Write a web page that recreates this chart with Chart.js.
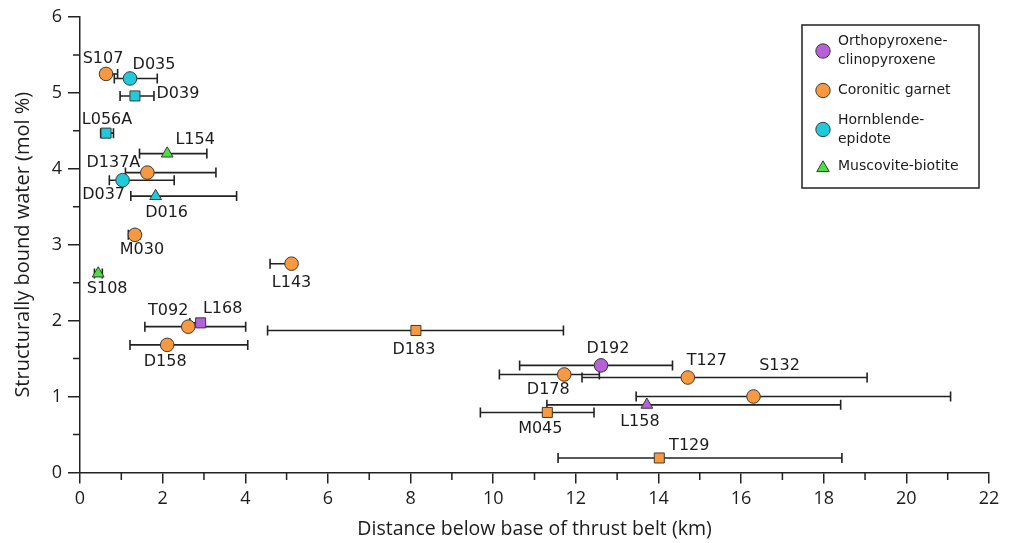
<!DOCTYPE html>
<html>
<head>
<meta charset="utf-8">
<script src="https://cdn.jsdelivr.net/npm/chart.js@4/dist/chart.umd.min.js"></script>
<style>
    html, body { margin: 0; padding: 0; background: #fff; }
    #wrap { width: 1012px; height: 543px; position: relative; }
</style>
</head>
<body>
<div id="wrap"><canvas id="chart"></canvas></div>
<script>
// --- data ---
const samples = ['S107', 'D035', 'D039', 'L056A', 'L154', 'D137A', 'D037', 'D016', 'M030', 'L143', 'S108',
    'T092', 'L168', 'D158', 'D183', 'D192', 'D178', 'T127', 'S132', 'L158', 'M045', 'T129'];
const distance     = [0.63, 1.21, 1.33, 0.63, 2.11, 1.63, 1.03, 1.83, 1.33, 5.12, 0.44, 2.62, 2.92, 2.11, 8.13, 12.61, 11.72, 14.71, 16.30, 13.72, 11.31, 14.02];
const distanceLow  = [0.52, 0.83, 0.97, 0.50, 1.44, 1.10, 0.71, 1.23, 1.17, 4.60, 0.35, 1.57, 2.66, 1.21, 4.54, 10.64, 10.15, 12.15, 13.46, 11.30, 9.69, 11.57];
const distanceHigh = [0.91, 1.87, 1.79, 0.81, 3.07, 3.29, 2.28, 3.79, 1.45, 5.20, 0.54, 4.01, 3.00, 4.06, 11.70, 14.34, 12.57, 19.05, 21.07, 18.41, 12.44, 18.44];
const water        = [5.25, 5.19, 4.96, 4.47, 4.20, 3.95, 3.85, 3.64, 3.13, 2.75, 2.62, 1.92, 1.97, 1.68, 1.87, 1.41, 1.29, 1.25, 1.00, 0.89, 0.79, 0.19];
// 0 opx-cpx, 1 coronitic garnet, 2 hornblende-epidote, 3 muscovite-biotite
const assemblage   = [1, 2, 2, 2, 3, 1, 2, 2, 1, 1, 3, 1, 0, 1, 1, 0, 1, 1, 1, 0, 1, 1];
const groups = [['Orthopyroxene-', 'clinopyroxene'], ['Coronitic garnet'], ['Hornblende-', 'epidote'], ['Muscovite-biotite']];
const xLabelTicks = [0, 2, 4, 6, 8, 10, 12, 14, 16, 18, 20, 22];
const yLabelTicks = [0, 1, 2, 3, 4, 5, 6];

// --- styling ---
const groupColors = ['#B660DA', '#F8983F', '#1FCADB', '#48E23D'];
const groupMarkers = ['circle', 'circle', 'circle', 'triangle'];
const markerShape = {
    D039: 'rect', L056A: 'rect', L154: 'triangle', D016: 'triangle', S108: 'triangle',
    L168: 'rect', D183: 'rect', L158: 'triangle', M045: 'rect', T129: 'rect'
};
// label offsets in px from the marker
const labelOffset = {
    S107: [-3, -15], D035: [24, -14], D039: [43, -2], L056A: [1, -13], L154: [28, -14],
    D137A: [-34, -10], D037: [-19, 15], D016: [11, 17], M030: [7, 15], L143: [0, 19],
    S108: [9, 15], T092: [-20, -16], L168: [22, -14], D158: [-2, 17], D183: [-2, 19],
    D192: [7, -17], D178: [-16, 15], T127: [19, -17], S132: [26, -31], L158: [-7, 17],
    M045: [-7, 16], T129: [30, -12]
};
const inkColor = '#1c1c1c';
const axisColor = '#222';

function drawMarker(ctx, shape, x, y, r, fill) {
    ctx.save();
    ctx.fillStyle = fill;
    ctx.strokeStyle = '#3a3a3a';
    ctx.lineWidth = 1;
    ctx.beginPath();
    if (shape === 'triangle') {
        ctx.moveTo(x, y - r);
        ctx.lineTo(x + r * 0.866, y + r / 2);
        ctx.lineTo(x - r * 0.866, y + r / 2);
        ctx.closePath();
    } else {
        ctx.arc(x, y, r, 0, Math.PI * 2);
    }
    ctx.fill();
    ctx.stroke();
    ctx.restore();
}

const errorBars = {
    id: 'errorBars',
    beforeDatasetsDraw(chart) {
        const ctx = chart.ctx;
        const xs = chart.scales.x, ys = chart.scales.y;
        ctx.save();
        ctx.strokeStyle = axisColor;
        ctx.lineWidth = 1.6;
        samples.forEach((s, i) => {
            const y = ys.getPixelForValue(water[i]);
            const x1 = xs.getPixelForValue(distanceLow[i]);
            const x2 = xs.getPixelForValue(distanceHigh[i]);
            ctx.beginPath();
            ctx.moveTo(x1, y); ctx.lineTo(x2, y);
            ctx.moveTo(x1, y - 5); ctx.lineTo(x1, y + 5);
            ctx.moveTo(x2, y - 5); ctx.lineTo(x2, y + 5);
            ctx.stroke();
        });
        ctx.restore();
    }
};

// short ticks between the labelled ones
const minorTicks = {
    id: 'minorTicks',
    afterDraw(chart) {
        const ctx = chart.ctx;
        const xs = chart.scales.x, ys = chart.scales.y;
        const area = chart.chartArea;
        ctx.save();
        ctx.strokeStyle = axisColor;
        ctx.lineWidth = 1.5;
        ctx.beginPath();
        xs.ticks.forEach(t => {
            if (xLabelTicks.includes(t.value)) return;
            const x = xs.getPixelForValue(t.value);
            ctx.moveTo(x, area.bottom); ctx.lineTo(x, area.bottom + 7.5);
        });
        ys.ticks.forEach(t => {
            if (yLabelTicks.includes(t.value)) return;
            const y = ys.getPixelForValue(t.value);
            ctx.moveTo(area.left, y); ctx.lineTo(area.left - 7, y);
        });
        ctx.stroke();
        ctx.restore();
    }
};

const pointLabels = {
    id: 'pointLabels',
    afterDatasetsDraw(chart) {
        const ctx = chart.ctx;
        const meta = chart.getDatasetMeta(0);
        ctx.save();
        ctx.font = '16px "DejaVu Sans"';
        ctx.fillStyle = inkColor;
        ctx.textAlign = 'center';
        ctx.textBaseline = 'middle';
        samples.forEach((s, i) => {
            const el = meta.data[i];
            const off = labelOffset[s] || [0, -15];
            ctx.fillText(s, el.x + off[0], el.y + off[1]);
        });
        ctx.restore();
    }
};

const boxLegend = {
    id: 'boxLegend',
    afterDraw(chart) {
        const ctx = chart.ctx;
        ctx.save();
        ctx.strokeStyle = axisColor;
        ctx.lineWidth = 1.5;
        ctx.strokeRect(802, 25, 177, 163);
        const rows = [51, 90.5, 129.5, 166.5];
        ctx.font = '14px "DejaVu Sans"';
        ctx.textBaseline = 'middle';
        ctx.textAlign = 'left';
        groups.forEach((lines, g) => {
            drawMarker(ctx, groupMarkers[g], 823, rows[g] + (groupMarkers[g] === 'triangle' ? 1.5 : 0), 7.2, groupColors[g]);
            const top = rows[g] - (lines.length - 1) * 9.5;
            lines.forEach((t, k) => {
                ctx.fillStyle = inkColor;
                ctx.fillText(t, 838, top + k * 19);
            });
        });
        ctx.restore();
    }
};

const axisFont = { family: '"Open Sans"', size: 18 };

new Chart(document.getElementById('chart'), {
    type: 'scatter',
    data: {
        datasets: [{
            data: samples.map((s, i) => ({ x: distance[i], y: water[i] })),
            pointStyle: ctx => markerShape[samples[ctx.dataIndex]] || 'circle',
            backgroundColor: ctx => groupColors[assemblage[ctx.dataIndex]],
            borderColor: '#3a3a3a',
            borderWidth: 1,
            pointRadius: ctx => (markerShape[samples[ctx.dataIndex]] === 'rect' ? 7.1 : 6.8),
            pointHoverRadius: 7
        }]
    },
    options: {
        responsive: true,
        maintainAspectRatio: false,
        animation: false,
        layout: { padding: { top: 17, right: 23, left: 0, bottom: 0 } },
        plugins: {
            legend: { display: false },
            tooltip: { enabled: false }
        },
        scales: {
            x: {
                type: 'linear',
                min: 0, max: 22,
                ticks: {
                    stepSize: 1,
                    autoSkip: false,
                    maxRotation: 0,
                    color: inkColor,
                    font: axisFont,
                    padding: 5,
                    callback: v => (xLabelTicks.includes(v) ? String(v) : '')
                },
                grid: {
                    drawOnChartArea: false, drawTicks: true, tickLength: 11, lineWidth: 1.5,
                    color: axisColor,
                    tickColor: c => (c.tick && xLabelTicks.includes(c.tick.value) ? axisColor : 'rgba(0,0,0,0)')
                },
                border: { color: axisColor, width: 1.5 },
                title: { display: true, text: 'Distance below base of thrust belt (km)', color: inkColor, font: { family: '"Open Sans"', size: 19.5 }, padding: { top: 0, bottom: 2 } },
                afterFit: scale => { scale.height = 70.6; }
            },
            y: {
                type: 'linear',
                min: 0, max: 6,
                ticks: {
                    stepSize: 0.5,
                    autoSkip: false,
                    color: inkColor,
                    font: axisFont,
                    padding: 6,
                    callback: v => (yLabelTicks.includes(v) ? String(v) : '')
                },
                grid: {
                    drawOnChartArea: false, drawTicks: true, tickLength: 12, lineWidth: 1.5,
                    color: axisColor,
                    tickColor: c => (c.tick && yLabelTicks.includes(c.tick.value) ? axisColor : 'rgba(0,0,0,0)')
                },
                border: { color: axisColor, width: 1.5 },
                title: { display: true, text: 'Structurally bound water (mol %)', color: inkColor, font: { family: '"Open Sans"', size: 20 }, padding: { top: 11, bottom: 0 } },
                afterFit: scale => { scale.width = 80; }
            }
        }
    },
    plugins: [errorBars, pointLabels, minorTicks, boxLegend]
});
</script>
</body>
</html>
